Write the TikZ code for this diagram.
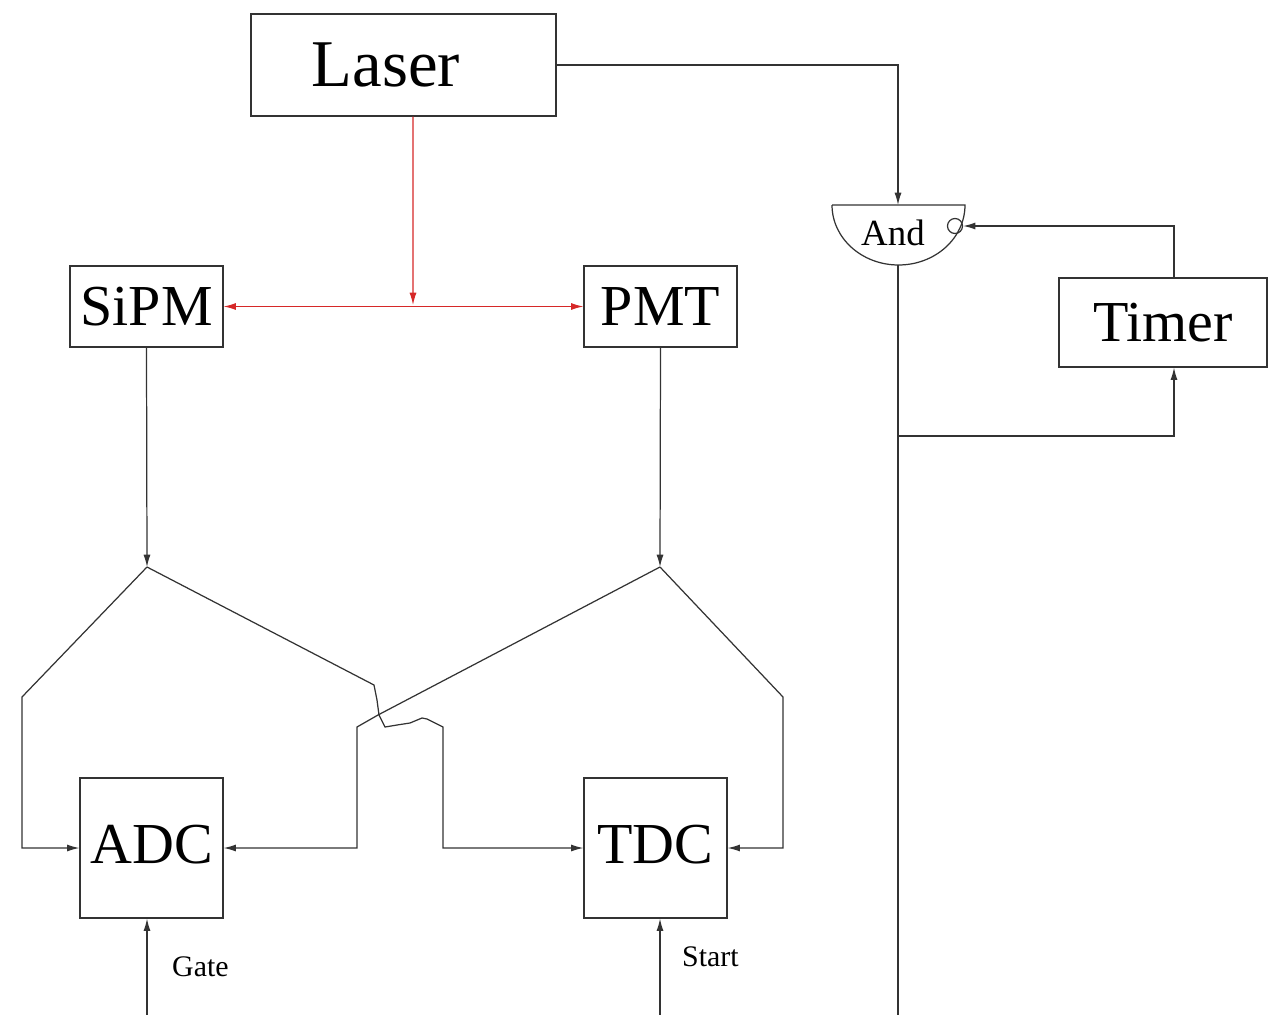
\documentclass[tikz,border=0pt]{standalone}
\usepackage{fontspec}
\setmainfont{Liberation Serif}
\usepackage{tikz}
\usetikzlibrary{arrows.meta, positioning, calc}
\definecolor{lasred}{HTML}{D62828}
\definecolor{wire}{HTML}{333333}

\begin{document}
\begin{tikzpicture}[
  x=0.02cm, y=-0.02cm,
  box/.style={rectangle, draw=wire, line width=0.7pt, inner sep=0pt,
              align=center, font=\fontsize{33}{36}\selectfont},
  arr/.style={-{Latex[length=7pt,width=4pt]}, line width=0.7pt, draw=wire},
  redarr/.style={arr, draw=lasred},
  tag/.style={font=\fontsize{17}{19}\selectfont, anchor=west},
]
  \useasboundingbox (0,0) rectangle (1269,1015);

  % boxes
  \node[box, minimum width=6.1cm,  minimum height=2.04cm, font=\fontsize{38}{40}\selectfont]
    (laser) at (403.5,65) {\hspace*{-0.7cm}\raisebox{-0.15cm}{Laser}};
  \node[box, minimum width=3.06cm, minimum height=1.62cm] (sipm)  at (146.5,306.5) {SiPM};
  \node[box, minimum width=3.06cm, minimum height=1.62cm] (pmt)   at (660.5,306.5) {PMT};
  \node[box, minimum width=4.16cm, minimum height=1.78cm] (timer) at (1163,322.5)  {Timer};
  \node[box, minimum width=2.86cm, minimum height=2.8cm]  (adc)   at (151.5,848)   {\raisebox{0.15cm}{ADC}};
  \node[box, minimum width=2.86cm, minimum height=2.8cm]  (tdc)   at (655.5,848)   {\raisebox{0.15cm}{TDC}};

  % and gate
  \draw[wire, line width=0.7pt] (832,205) -- (965,205)
    arc[start angle=0, end angle=-180, x radius=1.33cm, y radius=1.2cm] -- cycle;
  \node[font=\fontsize{21}{23}\selectfont] (andtxt) at (893,233) {And};
  \node[circle, draw=wire, line width=0.7pt, inner sep=0pt, minimum size=0.3cm] (bub) at (955,226) {};
  \coordinate (andin)  at (898,205);
  \coordinate (andout) at (898,265);
  \coordinate (br)     at (898,436);
  \coordinate (andend) at (898,1015);

  % laser light
  \coordinate (split) at (413,305);
  \draw[redarr] ([xshift=0.19cm]laser.south) -- (split);
  \draw[redarr, {Latex[length=7pt,width=4pt]}-{Latex[length=7pt,width=4pt]}]
    (sipm.east) -- (pmt.west);

  % trigger
  \draw[arr] (laser.east) -| (andin);
  \draw[arr] ([xshift=0.22cm]timer.north) |- (bub.east);
  \draw[wire, line width=0.7pt] (andout) -- (andend);
  \draw[arr] (br) -| ([xshift=0.22cm]timer.south);

  % signal split
  \coordinate (sfork) at (147,567);
  \coordinate (pfork) at (660,567);
  \draw[arr] (sipm.south) -- (sfork);
  \draw[arr] (pmt.south) -- (pfork);

  \draw[arr] (sfork) -- (22,697) |- (adc.west);
  \draw[arr] (sfork) -- (374,685) -- (377,700) -- (379,715) -- (385,727)
    -- (397,725) -- (410,723) -- (422,718) -- (427,719) -- (443,727) |- (tdc.west);
  \draw[arr] (pfork) -- (378,715) -- (357,727) |- (adc.east);
  \draw[arr] (pfork) -- (783,697) |- (tdc.east);

  % gate and start
  \coordinate (gatein)  at (147,1015);
  \coordinate (startin) at (660,1015);
  \draw[arr] (gatein) -- (gatein |- adc.south);
  \draw[arr] (startin) -- (startin |- tdc.south);
  \node[tag] (gatelbl)  at (166,967) {Gate};
  \node[tag] (startlbl) at (676,957) {Start};
\end{tikzpicture}
\end{document}
